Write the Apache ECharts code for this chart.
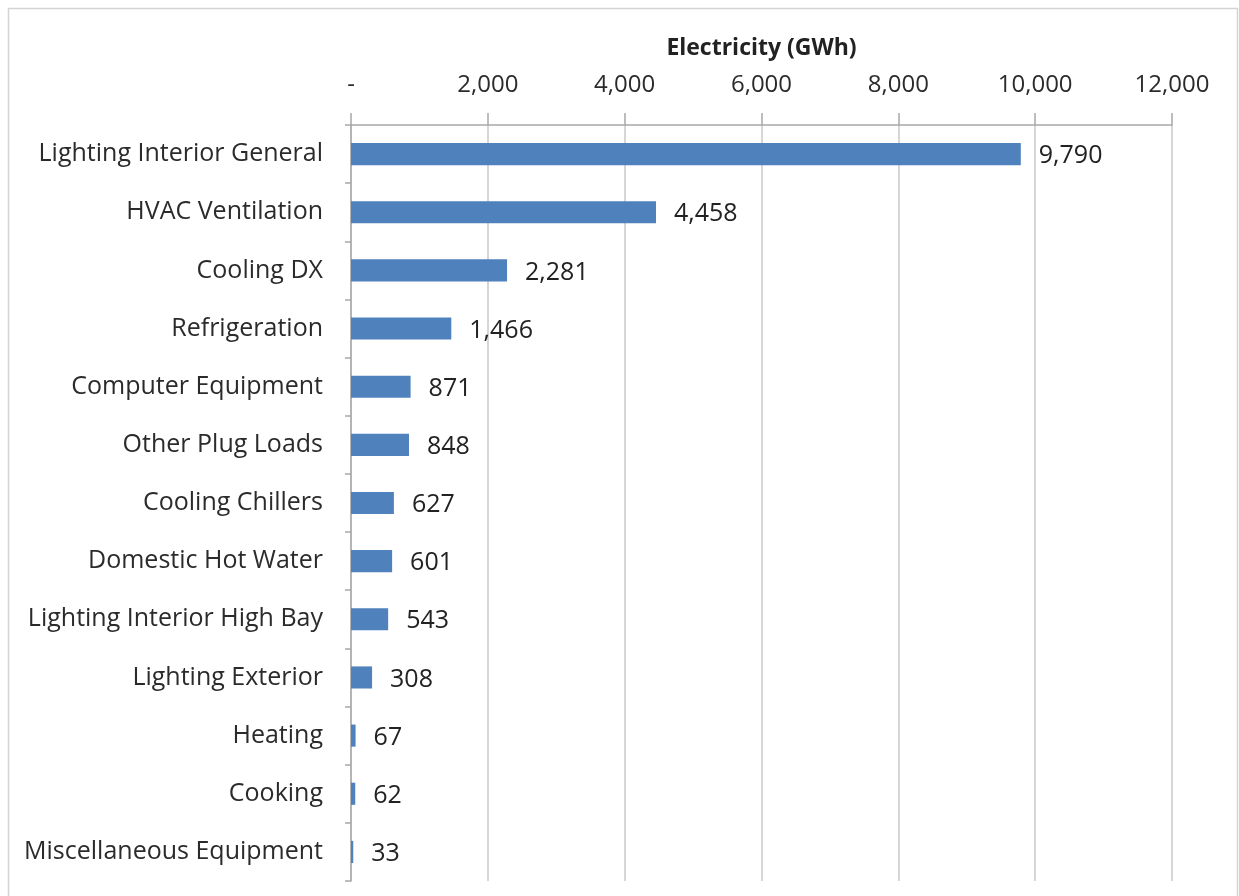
<!DOCTYPE html>
<html><head><meta charset="utf-8">
<script src="https://cdn.jsdelivr.net/npm/echarts@6/dist/echarts.min.js"></script>
<style>html,body{margin:0;padding:0;background:#fff;}#c{width:1239px;height:896px;}</style>
</head><body><div id="c"></div>
<script>
const categories = ["Lighting Interior General","HVAC Ventilation","Cooling DX","Refrigeration","Computer Equipment","Other Plug Loads","Cooling Chillers","Domestic Hot Water","Lighting Interior High Bay","Lighting Exterior","Heating","Cooking","Miscellaneous Equipment"];
const values = [9790,4458,2281,1466,871,848,627,601,543,308,67,62,33];
const axisTitle = "Electricity (GWh)";

function fmt(v){ return v === 0 ? '-' : String(v).replace(/\B(?=(\d{3})+(?!\d))/g, ','); }
const FONT = '"Open Sans", Lato, sans-serif';
const chart = echarts.init(document.getElementById('c'), null, {renderer:'canvas'});
chart.setOption({
  animation:false,
  backgroundColor:'#fff',
  textStyle:{fontFamily:FONT},
  graphic:[{type:'rect',shape:{x:8.5,y:8.5,width:1229,height:900},style:{fill:'none',stroke:'#d4d4d4',lineWidth:1.5},z:-1}],
  grid:{left:351,right:67,top:125,bottom:15,containLabel:false},
  xAxis:{type:'value',position:'top',min:0,max:12000,interval:2000,
    name:axisTitle,nameLocation:'middle',nameGap:65,
    nameTextStyle:{fontFamily:FONT,fontSize:23,fontWeight:'bold',color:'#222'},
    axisLine:{show:true,lineStyle:{color:'#a8a8a8',width:1.5}},
    axisTick:{show:true,inside:false,length:12,lineStyle:{color:'#a8a8a8',width:1.5}},
    axisLabel:{formatter:fmt,margin:28,fontFamily:FONT,fontSize:24,color:'#2b2b2b'},
    splitLine:{show:true,lineStyle:{color:'#c8c8c8',width:1.5}}
  },
  yAxis:{type:'category',data:categories,inverse:true,
    axisLine:{show:true,lineStyle:{color:'#a8a8a8',width:1.5}},
    axisTick:{show:true,length:6,alignWithLabel:false,lineStyle:{color:'#a8a8a8',width:1.5}},
    axisLabel:{margin:28,padding:[4,0,0,0],fontFamily:FONT,fontSize:25,color:'#2b2b2b'},
    splitLine:{show:false}
  },
  series:[{type:'bar',data:values,barCategoryGap:'62%',
    itemStyle:{color:'#4F81BD'},
    label:{show:true,position:'right',distance:18,offset:[0,2],formatter:p=>fmt(p.value),fontFamily:FONT,fontSize:25,color:'#222'}
  }]
});
</script></body></html>
